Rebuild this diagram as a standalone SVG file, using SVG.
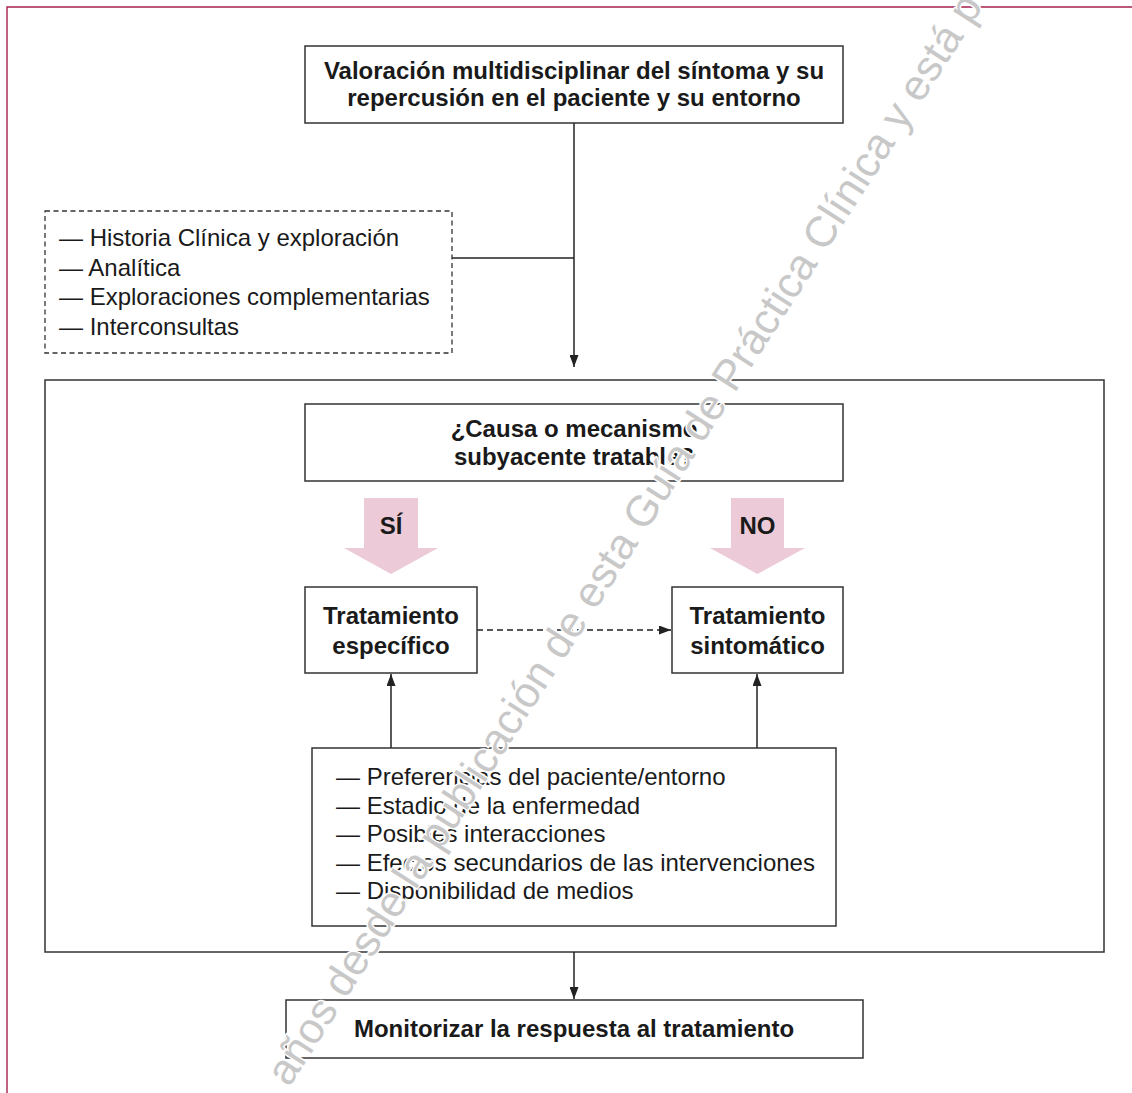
<svg xmlns="http://www.w3.org/2000/svg" width="1132" height="1093" viewBox="0 0 1132 1093">
<style>
.box{fill:#fff;stroke:#333;stroke-width:1.5}
.dbox{fill:#fff;stroke:#333;stroke-width:1.3;stroke-dasharray:5 3.5}
.b{font-family:"Liberation Sans",Arial,sans-serif;font-weight:bold;font-size:24px;fill:#1a1a1a;text-anchor:middle}
.r{font-family:"Liberation Sans",Arial,sans-serif;font-size:24px;fill:#1a1a1a}
.ln{fill:none;stroke:#222;stroke-width:1.5}
.dl{fill:none;stroke:#222;stroke-width:1.3;stroke-dasharray:6 4}
.pink{fill:#eccad7}
.wm{font-family:"Liberation Sans",Arial,sans-serif;font-size:43px;fill:#c8c8c8;stroke:#fff;stroke-width:3;paint-order:stroke}
</style>
<defs>
<marker id="ah" markerUnits="userSpaceOnUse" markerWidth="12" markerHeight="9" refX="12" refY="4.5" orient="auto">
<path d="M0,0 L12,4.5 L0,9 z" fill="#222"/>
</marker>
</defs>
<rect width="1132" height="1093" fill="#fff"/>
<path d="M7,1093 V7 H1132" fill="none" stroke="#a3224f" stroke-width="1.4"/>

<g id="outer">
<rect class="box" x="45" y="380" width="1059" height="572"/>
</g>

<g id="connectors">
<path class="ln" d="M574,123 V367" marker-end="url(#ah)"/>
<path class="ln" d="M452,258 H574"/>
<path class="dl" d="M477,630 H671" marker-end="url(#ah)"/>
<path class="ln" d="M391,748 V674" marker-end="url(#ah)"/>
<path class="ln" d="M757,748 V674" marker-end="url(#ah)"/>
<path class="ln" d="M574,952 V999" marker-end="url(#ah)"/>
<g id="arrow-si">
<path class="pink" d="M364,498 H418 V548 H438 L391,574 L344,548 H364 Z"/>
<text class="b" x="391" y="534">SÍ</text>
</g>
<g id="arrow-no">
<path class="pink" d="M731,498 H784 V548 H805 L757.5,574 L710,548 H731 Z"/>
<text class="b" x="757.5" y="534">NO</text>
</g>
</g>

<g id="valoracion">
<rect class="box" x="305" y="46" width="538" height="77"/>
<text class="b" x="574" y="79">Valoración multidisciplinar del síntoma y su</text>
<text class="b" x="574" y="106">repercusión en el paciente y su entorno</text>
</g>

<g id="pruebas">
<rect class="dbox" x="45" y="211" width="407" height="142"/>
<text class="r" x="59" y="246">— Historia Clínica y exploración</text>
<text class="r" x="59" y="275.5">— Analítica</text>
<text class="r" x="59" y="305">— Exploraciones complementarias</text>
<text class="r" x="59" y="334.5">— Interconsultas</text>
</g>

<g id="causa">
<rect class="box" x="305" y="404" width="538" height="77"/>
<text class="b" x="574" y="437">¿Causa o mecanismo</text>
<text class="b" x="574" y="465">subyacente tratable?</text>
</g>

<g id="especifico">
<rect class="box" x="305" y="587" width="172" height="86"/>
<text class="b" x="391" y="624">Tratamiento</text>
<text class="b" x="391" y="654">específico</text>
</g>

<g id="sintomatico">
<rect class="box" x="672" y="587" width="171" height="86"/>
<text class="b" x="757.5" y="624">Tratamiento</text>
<text class="b" x="757.5" y="654">sintomático</text>
</g>

<g id="factores">
<rect class="box" x="312" y="748" width="524" height="178"/>
<text class="r" x="336" y="785">— Preferencias del paciente/entorno</text>
<text class="r" x="336" y="813.5">— Estadio de la enfermedad</text>
<text class="r" x="336" y="842">— Posibles interacciones</text>
<text class="r" x="336" y="870.5">— Efectos secundarios de las intervenciones</text>
<text class="r" x="336" y="899">— Disponibilidad de medios</text>
</g>

<g id="monitorizar">
<rect class="box" x="286" y="1000" width="577" height="58"/>
<text class="b" x="574" y="1037">Monitorizar la respuesta al tratamiento</text>
</g>

<g id="watermark">
<text class="wm" transform="translate(289,1088) rotate(-57.3)">años desde la publicación de esta Guía de Práctica Clínica y está p</text>
</g>
</svg>
